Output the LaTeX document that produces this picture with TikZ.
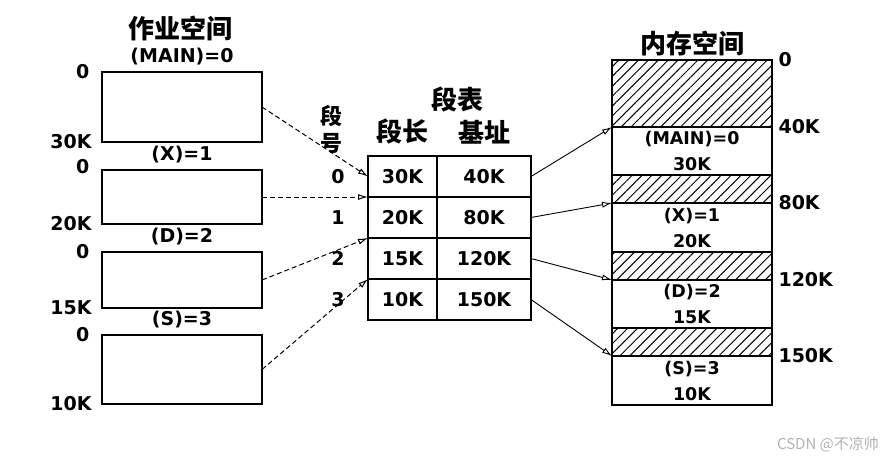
\documentclass[tikz,border=0pt]{standalone}
\usepackage{fontspec}
\setmainfont{DejaVu Sans}
\newfontfamily\cjk{Noto Sans CJK SC}
\usetikzlibrary{arrows.meta,positioning,patterns.meta}

\begin{document}
\begin{tikzpicture}[x=1pt,y=-1pt,
  seg/.style={draw,line width=1.4pt,minimum width=160pt,inner sep=0pt,outer sep=0pt},
  hatch/.style={seg,minimum height=28pt,
    pattern={Lines[angle=45,distance=7pt,line width=1pt]}},
  cell/.style={draw,line width=1.2pt,minimum height=41pt,inner sep=0pt,outer sep=0pt,num},
  num/.style={font=\fontsize{19}{21}\selectfont\bfseries},
  memtxt/.style={align=center,font=\fontsize{17.5}{26}\selectfont\bfseries},
  cn/.style={font=\cjk\fontsize{26}{28}\selectfont\bfseries},
  link/.style={line width=1pt,dash pattern=on 5pt off 3pt,
    -{Latex[open,length=10pt,width=6pt]}},
  addr/.style={line width=0.9pt,-{Latex[open,length=10pt,width=6pt]}}]

  \useasboundingbox (0,0) rectangle (888,461);

  % Job space
  \node[cn] (work) at (180,28) {作业空间};
  \node[seg,minimum height=70pt] (main) at (182,107) {};
  \node[seg,minimum height=54pt] (x) at (182,197) {};
  \node[seg,minimum height=56pt] (d) at (182,280) {};
  \node[seg,minimum height=69pt] (s) at (182,369.5) {};
  \node[num,above=3pt of main] (mainname) {(MAIN)=0};
  \node[num,above=3pt of x] (xname) {(X)=1};
  \node[num,above=3pt of d] (dname) {(D)=2};
  \node[num,above=3pt of s] (sname) {(S)=3};
  % Offsets
  \node[num,anchor=east,xshift=-9pt] (main0) at (main.north west) {0};
  \node[num,anchor=east,xshift=-7pt] (mainend) at (main.south west) {30K};
  \node[num,anchor=east,xshift=-9pt,yshift=3pt] (x0) at (x.north west) {0};
  \node[num,anchor=east,xshift=-7pt] (xend) at (x.south west) {20K};
  \node[num,anchor=east,xshift=-9pt] (d0) at (d.north west) {0};
  \node[num,anchor=east,xshift=-7pt] (dend) at (d.south west) {15K};
  \node[num,anchor=east,xshift=-9pt] (s0) at (s.north west) {0};
  \node[num,anchor=east,xshift=-7pt] (send) at (s.south west) {10K};

  % Segment table
  \node[cell,minimum width=69pt] (len0) at (402.5,176.5) {30K};
  \node[cell,minimum width=94pt,right=0pt of len0] (base0) {40K};
  \node[cell,minimum width=69pt,below=0pt of len0] (len1) {20K};
  \node[cell,minimum width=94pt,right=0pt of len1] (base1) {80K};
  \node[cell,minimum width=69pt,below=0pt of len1] (len2) {15K};
  \node[cell,minimum width=94pt,right=0pt of len2] (base2) {120K};
  \node[cell,minimum width=69pt,below=0pt of len2] (len3) {10K};
  \node[cell,minimum width=94pt,right=0pt of len3] (base3) {150K};
  \node[cn] (table) at (457,99) {段表};
  \node[cn,above=8pt of len0] (lenhead) {段长};
  \node[cn,above=8pt of base0] (basehead) {基址};
  \node[cn,font=\cjk\fontsize{22}{24}\selectfont\bfseries] (segno1) at (331,116) {段};
  \node[cn,font=\cjk\fontsize{22}{24}\selectfont\bfseries] (segno2) at (331,143) {号};
  \node[num,left=20pt of len0] (n0) {0};
  \node[num,left=20pt of len1] (n1) {1};
  \node[num,left=20pt of len2] (n2) {2};
  \node[num,left=20pt of len3] (n3) {3};

  % Memory space
  \node[cn] (mem) at (692,43) {内存空间};
  \node[hatch,minimum height=67pt] (os) at (692,93.5) {};
  \node[seg,memtxt,minimum height=48pt,below=0pt of os] (mmain) {(MAIN)=0\\30K};
  \node[hatch,below=0pt of mmain] (free1) {};
  \node[seg,memtxt,minimum height=49pt,below=0pt of free1] (mx) {(X)=1\\20K};
  \node[hatch,below=0pt of mx] (free2) {};
  \node[seg,memtxt,minimum height=48pt,below=0pt of free2] (md) {(D)=2\\15K};
  \node[hatch,below=0pt of md] (free3) {};
  \node[seg,memtxt,minimum height=49pt,below=0pt of free3] (ms) {(S)=3\\10K};
  % Addresses
  \node[num,anchor=west,xshift=3pt] (a0) at (os.north east) {0};
  \node[num,anchor=west,xshift=3pt] (a40) at (os.south east) {40K};
  \node[num,anchor=west,xshift=3pt] (a80) at (free1.south east) {80K};
  \node[num,anchor=west,xshift=3pt] (a120) at (free2.south east) {120K};
  \node[num,anchor=west,xshift=3pt] (a150) at (free3.south east) {150K};

  % Links
  \draw[link] (main.east) -- (len0.west);
  \draw[link] (x.east) -- (len0.south west);
  \draw[link] (d.east) -- (len2.north west);
  \draw[link] (s.east) -- (len3.north west);
  \draw[addr] (base0.east) -- (os.south west);
  \draw[addr] (base1.east) -- (free1.south west);
  \draw[addr] (base2.east) -- (free2.south west);
  \draw[addr] (base3.east) -- (free3.south west);

  \node[font=\cjk\fontsize{15}{17}\selectfont,text=gray!60] (mark) at (828,444) {CSDN @不凉帅};
\end{tikzpicture}
\end{document}
